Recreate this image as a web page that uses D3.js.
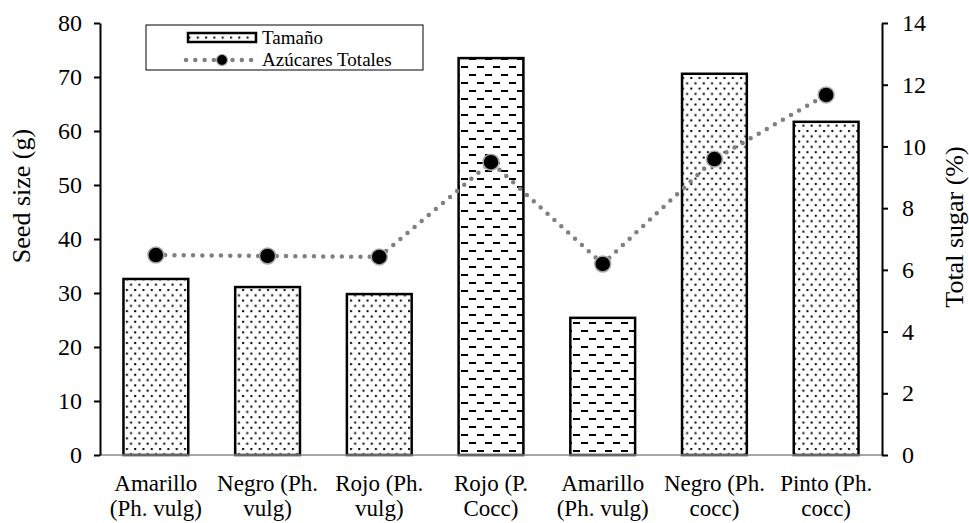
<!DOCTYPE html>
<html>
<head>
<meta charset="utf-8">
<script src="https://cdn.jsdelivr.net/npm/d3@7"></script>
<style>
  body { margin: 0; background: #fff; }
  svg text { font-family: "Liberation Serif", "DejaVu Serif", serif !important; fill: #000; }
</style>
</head>
<body>
<div id="chart"></div>
<script>
// data
const categories = [
    ["Amarillo", "(Ph. vulg)"],
    ["Negro (Ph.", "vulg)"],
    ["Rojo (Ph.", "vulg)"],
    ["Rojo (P.", "Cocc)"],
    ["Amarillo", "(Ph. vulg)"],
    ["Negro (Ph.", "cocc)"],
    ["Pinto (Ph.", "cocc)"]
];
const seedSize = [32.6, 31.1, 29.8, 73.5, 25.4, 70.6, 61.7];
const totalSugar = [6.48, 6.45, 6.42, 9.49, 6.19, 9.59, 11.67];
const fills = ["dots", "dots", "dots", "dashes", "dashes", "dots", "dots"];
const leftTicks = [0, 10, 20, 30, 40, 50, 60, 70, 80];
const rightTicks = [0, 2, 4, 6, 8, 10, 12, 14];

const W = 969, H = 523;
const margin = {top: 23, right: 87, bottom: 68, left: 100};
const width = W - margin.left - margin.right;
const height = H - margin.top - margin.bottom;
const serif = '"Liberation Serif", "DejaVu Serif", serif';

const svg = d3.select("#chart").append("svg")
    .attr("width", W).attr("height", H)
    .attr("font-family", serif);

// patterns
const defs = svg.append("defs");
const pDots = defs.append("pattern")
    .attr("id", "dots").attr("patternUnits", "userSpaceOnUse")
    .attr("width", 8.3).attr("height", 10.6);
pDots.append("rect").attr("width", 8.3).attr("height", 10.6).attr("fill", "#fff");
pDots.append("rect").attr("x", 1).attr("y", 1).attr("width", 2).attr("height", 2).attr("fill", "#000");
pDots.append("rect").attr("x", 5.15).attr("y", 6.3).attr("width", 2).attr("height", 2).attr("fill", "#000");

const pDash = defs.append("pattern")
    .attr("id", "dashes").attr("patternUnits", "userSpaceOnUse")
    .attr("width", 16).attr("height", 16);
pDash.append("rect").attr("width", 16).attr("height", 16).attr("fill", "#fff");
pDash.append("rect").attr("x", 1).attr("y", 3).attr("width", 7).attr("height", 2).attr("fill", "#000");
pDash.append("rect").attr("x", 9).attr("y", 11).attr("width", 7).attr("height", 2).attr("fill", "#000");

const g = svg.append("g")
    .attr("transform", `translate(${margin.left},${margin.top})`);

const x = d3.scaleBand()
    .domain(d3.range(categories.length))
    .range([0, width])
    .paddingInner(0.42).paddingOuter(0.21);

const yL = d3.scaleLinear().domain([0, 80]).range([height, 0]);
const yR = d3.scaleLinear().domain([0, 14]).range([height, 0]);

// bars
g.selectAll(".bar")
    .data(seedSize)
    .enter().append("rect")
    .attr("class", "bar")
    .attr("x", (d, i) => x(i))
    .attr("y", d => yL(d))
    .attr("width", x.bandwidth())
    .attr("height", d => height - yL(d))
    .attr("fill", (d, i) => `url(#${fills[i]})`)
    .attr("stroke", "#000")
    .attr("stroke-width", 2.5);

// baseline
g.append("line")
    .attr("x1", 0).attr("x2", width)
    .attr("y1", height).attr("y2", height)
    .attr("stroke", "#888").attr("stroke-width", 1.5);

// left axis
const axL = g.append("g")
    .call(d3.axisLeft(yL).tickValues(leftTicks).tickSize(6).tickPadding(12).tickSizeOuter(0))
    .attr("font-family", serif).attr("font-size", 24);
axL.select(".domain").attr("stroke", "#000").attr("stroke-width", 2);
axL.selectAll(".tick line").attr("stroke", "#000").attr("stroke-width", 2);

// right axis
const axR = g.append("g")
    .attr("transform", `translate(${width},0)`)
    .call(d3.axisRight(yR).tickValues(rightTicks).tickSize(6).tickPadding(14).tickSizeOuter(0))
    .attr("font-family", serif).attr("font-size", 24);
axR.select(".domain").attr("stroke", "#000").attr("stroke-width", 2);
axR.selectAll(".tick line").attr("stroke", "#000").attr("stroke-width", 2);

// x labels
const xl = g.selectAll(".xlab")
    .data(categories)
    .enter().append("text")
    .attr("class", "xlab")
    .attr("text-anchor", "middle")
    .attr("font-size", 23)
    .attr("x", (d, i) => x(i) + x.bandwidth() / 2)
    .attr("y", height + 36);
xl.append("tspan").text(d => d[0]);
xl.append("tspan")
    .attr("x", (d, i) => x(i) + x.bandwidth() / 2)
    .attr("dy", 25)
    .text(d => d[1]);

// axis titles
svg.append("text")
    .attr("transform", `translate(30,196) rotate(-90)`)
    .attr("text-anchor", "middle")
    .attr("font-size", 26)
    .text("Seed size (g)");
svg.append("text")
    .attr("transform", `translate(963,227) rotate(-90)`)
    .attr("text-anchor", "middle")
    .attr("font-size", 26)
    .text("Total sugar (%)");

// sugar line
const line = d3.line()
    .x((d, i) => x(i) + x.bandwidth() / 2)
    .y(d => yR(d));
g.append("path")
    .datum(totalSugar)
    .attr("d", line)
    .attr("fill", "none")
    .attr("stroke", "#808080")
    .attr("stroke-width", 4.5)
    .attr("stroke-linecap", "round")
    .attr("stroke-dasharray", "0 9.3");

g.selectAll(".pt")
    .data(totalSugar)
    .enter().append("circle")
    .attr("class", "pt")
    .attr("cx", (d, i) => x(i) + x.bandwidth() / 2)
    .attr("cy", d => yR(d))
    .attr("r", 8)
    .attr("fill", "#000")
    .attr("stroke", "#aaa")
    .attr("stroke-width", 1.5);

// legend
const leg = svg.append("g").attr("transform", "translate(146,25)");
leg.append("rect")
    .attr("width", 277).attr("height", 45)
    .attr("fill", "#fff").attr("stroke", "#000").attr("stroke-width", 1);
leg.append("rect")
    .attr("x", 42).attr("y", 8).attr("width", 68).attr("height", 9)
    .attr("fill", "url(#dots)").attr("stroke", "#000").attr("stroke-width", 2.5);
leg.append("text").attr("x", 116).attr("y", 19).attr("font-size", 19).text("Tamaño");
leg.append("line")
    .attr("x1", 40).attr("x2", 106).attr("y1", 35).attr("y2", 35)
    .attr("stroke", "#808080").attr("stroke-width", 4.5)
    .attr("stroke-linecap", "round").attr("stroke-dasharray", "0 9.3");
leg.append("circle")
    .attr("cx", 76).attr("cy", 35).attr("r", 5.5)
    .attr("fill", "#000").attr("stroke", "#aaa").attr("stroke-width", 1.2);
leg.append("text").attr("x", 116).attr("y", 41).attr("font-size", 19).text("Azúcares Totales");
</script>
</body>
</html>
